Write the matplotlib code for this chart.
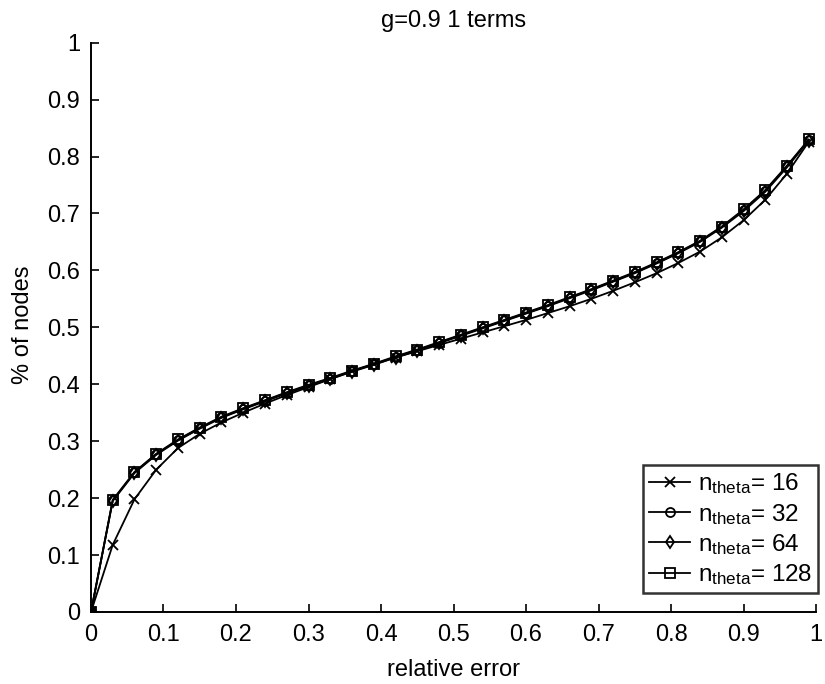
import numpy as np
import matplotlib
matplotlib.use("Agg")
import matplotlib.pyplot as plt

plt.rcParams['font.family'] = ['Liberation Sans', 'DejaVu Sans']
plt.rcParams['mathtext.fontset'] = 'custom'
plt.rcParams['mathtext.rm'] = 'Liberation Sans'
plt.rcParams['mathtext.it'] = 'Liberation Sans'

# ==== DATA ====
rel_error = [0.00, 0.03, 0.06, 0.09, 0.12, 0.15, 0.18, 0.21, 0.24, 0.27, 0.30, 0.33,
             0.36, 0.39, 0.42, 0.45, 0.48, 0.51, 0.54, 0.57, 0.60, 0.63, 0.66, 0.69,
             0.72, 0.75, 0.78, 0.81, 0.84, 0.87, 0.90, 0.93, 0.96, 0.99]

nodes_16 = [0.000, 0.118, 0.198, 0.250, 0.288, 0.313, 0.333, 0.350, 0.366, 0.381, 0.395, 0.409,
            0.423, 0.435, 0.447, 0.458, 0.469, 0.480, 0.491, 0.502, 0.513, 0.525, 0.537, 0.550,
            0.564, 0.579, 0.595, 0.613, 0.633, 0.658, 0.688, 0.724, 0.770, 0.826]

nodes_32 = [0.000, 0.196, 0.245, 0.277, 0.302, 0.323, 0.342, 0.357, 0.371, 0.385, 0.398, 0.410,
            0.423, 0.435, 0.448, 0.460, 0.473, 0.486, 0.499, 0.512, 0.525, 0.538, 0.552, 0.566,
            0.581, 0.596, 0.613, 0.631, 0.651, 0.676, 0.706, 0.740, 0.783, 0.829]

nodes_64 = [0.000, 0.195, 0.244, 0.276, 0.301, 0.322, 0.341, 0.356, 0.370, 0.384, 0.397, 0.409,
            0.422, 0.434, 0.447, 0.459, 0.472, 0.485, 0.498, 0.511, 0.524, 0.537, 0.551, 0.565,
            0.580, 0.595, 0.612, 0.630, 0.650, 0.675, 0.704, 0.738, 0.781, 0.828]

nodes_128 = [0.000, 0.197, 0.246, 0.278, 0.303, 0.324, 0.343, 0.358, 0.372, 0.386, 0.399, 0.411,
             0.424, 0.436, 0.449, 0.461, 0.474, 0.487, 0.500, 0.513, 0.526, 0.539, 0.553, 0.567,
             0.582, 0.597, 0.614, 0.632, 0.652, 0.677, 0.707, 0.741, 0.784, 0.830]

series = [
    (nodes_16, 'x', r'n$_{\mathregular{theta}}$= 16'),
    (nodes_32, 'o', r'n$_{\mathregular{theta}}$= 32'),
    (nodes_64, 'd', r'n$_{\mathregular{theta}}$= 64'),
    (nodes_128, 's', r'n$_{\mathregular{theta}}$= 128'),
]

ticks = [0, 0.1, 0.2, 0.3, 0.4, 0.5, 0.6, 0.7, 0.8, 0.9, 1]
ticklabels = ['0', '0.1', '0.2', '0.3', '0.4', '0.5', '0.6', '0.7', '0.8', '0.9', '1']

# ==== PLOT ====
fig = plt.figure(figsize=(8.25, 6.84), dpi=100)
ax = fig.add_axes([0.1103, 0.1053, 0.8788, 0.8323])

for vals, marker, label in series:
    ax.plot(rel_error, vals, color='black', lw=1.3, marker=marker, markersize=6.5,
            markerfacecolor='none', markeredgecolor='black', markeredgewidth=1.3, label=label)

ax.set_xlim(0, 1)
ax.set_ylim(0, 1)
ax.set_xticks(ticks)
ax.set_xticklabels(ticklabels)
ax.set_yticks(ticks)
ax.set_yticklabels(ticklabels)
ax.tick_params(direction='in', length=6, width=1.2, labelsize=17)
ax.tick_params(axis='x', pad=9)
ax.tick_params(axis='y', pad=8)
ax.spines['top'].set_visible(False)
ax.spines['right'].set_visible(False)
ax.spines['left'].set_linewidth(1.4)
ax.spines['bottom'].set_linewidth(1.4)

ax.set_title('g=0.9 1 terms', fontsize=17, pad=11)
ax.set_xlabel('relative error', fontsize=17)
ax.set_ylabel('% of nodes', fontsize=17)
ax.xaxis.set_label_coords(0.5, -0.082)
ax.yaxis.set_label_coords(-0.078, 0.505)

leg = ax.legend(loc='lower right', fontsize=17.5, frameon=True, fancybox=False,
                edgecolor='black', handlelength=1.7, handletextpad=0.3,
                labelspacing=0.22, borderpad=0.25, borderaxespad=0.0,
                bbox_to_anchor=(1.003, 0.033))
leg.get_frame().set_linewidth(1.8)

fig.savefig('out.png', dpi=100)
